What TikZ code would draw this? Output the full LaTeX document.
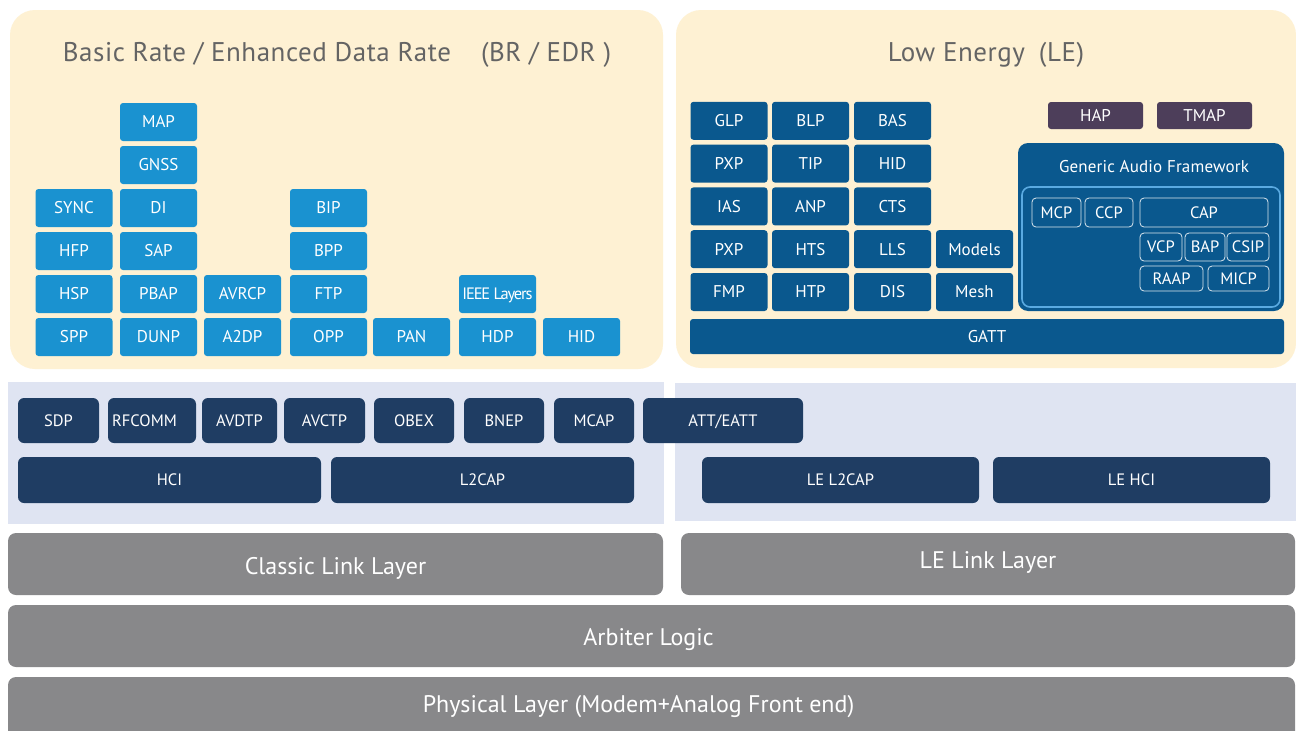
\documentclass[tikz,border=0pt]{standalone}
\usepackage{fontspec}
\setmainfont{PT Sans}
\usepackage{tikz}
\usetikzlibrary{positioning}

\begin{document}
\begin{tikzpicture}[x=1pt,y=-1pt,
    box/.style={inner sep=0pt,text=white,font=\fontsize{17}{20}\selectfont,text height=11.9pt,text depth=0pt},
    brbox/.style={box,rounded corners=3pt,fill=brblue,minimum width=77pt,minimum height=38pt},
    lebox/.style={box,rounded corners=3pt,fill=leblue,minimum width=77pt,minimum height=38pt},
    hapbox/.style={box,rounded corners=3pt,fill=hapviolet,minimum width=95pt,minimum height=27pt},
    gafbox/.style={box,rounded corners=4pt,draw=white!85!leblue,line width=0.8pt,font=\fontsize{16.5}{19}\selectfont,text height=11.5pt},
    stackbox/.style={box,rounded corners=6pt,fill=stacknavy,minimum height=45pt,font=\fontsize{16.5}{19}\selectfont,text height=11.5pt},
    linkbar/.style={box,rounded corners=8pt,fill=linkgray,minimum height=62pt,font=\fontsize{24}{28}\selectfont,text height=16.8pt},
    paneltitle/.style={inner sep=0pt,text=titlegray,font=\fontsize{27}{31}\selectfont\addfontfeature{LetterSpace=2},text height=18.9pt,text depth=0pt}]
            \definecolor{cream}{RGB}{254,241,211};
            \definecolor{lavender}{RGB}{223,228,242};
            \definecolor{brblue}{RGB}{26,146,208};
            \definecolor{leblue}{RGB}{10,88,142};
            \definecolor{hapviolet}{RGB}{77,62,90};
            \definecolor{stacknavy}{RGB}{31,61,99};
            \definecolor{linkgray}{RGB}{136,136,138};
            \definecolor{titlegray}{RGB}{100,100,100};
            \definecolor{gafline}{RGB}{90,170,225};

            \useasboundingbox (0,0) rectangle (1296,731);
            \fill[white] (0,0) rectangle (1296,731);

            % panels
            \fill[cream,rounded corners=25pt] (10,10) rectangle (663,369);
            \fill[cream,rounded corners=25pt] (676,10) rectangle (1296,368);
            \fill[lavender] (8,382) rectangle (664,524);
            \fill[lavender] (675,383) rectangle (1296,521);

            \node[paneltitle] (brtitle) at (337,52.5) {Basic Rate / Enhanced Data Rate\hspace{30pt}(BR / EDR )};
            \node[paneltitle] (letitle) at (986,52.5) {Low Energy\hspace{14pt}(LE)};

            % BR/EDR profiles
            \node[brbox] (spp) at (74,337) {SPP};
            \node[brbox,above=4.6pt of spp] (hsp) {HSP};
            \node[brbox,above=4.6pt of hsp] (hfp) {HFP};
            \node[brbox,above=4.6pt of hfp] (sync) {SYNC};

            \node[brbox] (dunp) at (158.5,337) {DUNP};
            \node[brbox,above=4.6pt of dunp] (pbap) {PBAP};
            \node[brbox,above=4.6pt of pbap] (sap) {SAP};
            \node[brbox,above=4.6pt of sap] (di) {DI};
            \node[brbox,above=4.6pt of di] (gnss) {GNSS};
            \node[brbox,above=4.6pt of gnss] (map) {MAP};

            \node[brbox] (atwodp) at (242.5,337) {A2DP};
            \node[brbox,above=4.6pt of atwodp] (avrcp) {AVRCP};

            \node[brbox] (opp) at (328.5,337) {OPP};
            \node[brbox,above=4.6pt of opp] (ftp) {FTP};
            \node[brbox,above=4.6pt of ftp] (bpp) {BPP};
            \node[brbox,above=4.6pt of bpp] (bip) {BIP};

            \node[brbox] (pan) at (411.5,337) {PAN};
            \node[brbox] (hdp) at (497.5,337) {HDP};
            \node[brbox,above=4.6pt of hdp,font=\fontsize{16.5}{19}\selectfont\addfontfeature{LetterSpace=-7},text height=11.5pt] (ieee) {IEEE Layers};
            \node[brbox] (brhid) at (581.5,337) {HID};

            % LE profiles
            \node[lebox] (fmp) at (729,292) {FMP};
            \node[lebox,above=4.4pt of fmp] (pxpb) {PXP};
            \node[lebox,above=4.4pt of pxpb] (ias) {IAS};
            \node[lebox,above=4.4pt of ias] (pxpa) {PXP};
            \node[lebox,above=4.4pt of pxpa] (glp) {GLP};

            \node[lebox] (htp) at (810.5,292) {HTP};
            \node[lebox,above=4.4pt of htp] (hts) {HTS};
            \node[lebox,above=4.4pt of hts] (anp) {ANP};
            \node[lebox,above=4.4pt of anp] (tip) {TIP};
            \node[lebox,above=4.4pt of tip] (blp) {BLP};

            \node[lebox] (dis) at (892.5,292) {DIS};
            \node[lebox,above=4.4pt of dis] (lls) {LLS};
            \node[lebox,above=4.4pt of lls] (cts) {CTS};
            \node[lebox,above=4.4pt of cts] (lehid) {HID};
            \node[lebox,above=4.4pt of lehid] (bas) {BAS};

            \node[lebox] (mesh) at (974.5,292) {Mesh};
            \node[lebox,above=4.4pt of mesh] (models) {Models};

            \node[lebox,minimum width=594pt,minimum height=35pt] (gatt) at (987,336.5) {GATT};

            \node[hapbox] (hap) at (1095.5,115.5) {HAP};
            \node[hapbox] (tmap) at (1204.5,115.5) {TMAP};

            % generic audio framework
            \node[box,rounded corners=10pt,fill=leblue,minimum width=266pt,minimum height=168pt] (gaf) at (1151,227) {};
            \node[box,font=\fontsize{17}{20}\selectfont\addfontfeature{LetterSpace=1}] (gaftitle) at (1154,167) {Generic Audio Framework};
            \draw[gafline,line width=1.6pt,rounded corners=8pt] (1022,187) rectangle (1280,307);
            \node[gafbox,minimum width=49pt,minimum height=29pt] (mcp) at (1056.5,212.5) {MCP};
            \node[gafbox,minimum width=48pt,minimum height=29pt] (ccp) at (1109,212.5) {CCP};
            \node[gafbox,minimum width=128pt,minimum height=29pt] (cap) at (1204,212.5) {CAP};
            \node[gafbox,minimum width=42pt,minimum height=28pt] (vcp) at (1161,247) {VCP};
            \node[gafbox,minimum width=40pt,minimum height=28pt] (bap) at (1205,247) {BAP};
            \node[gafbox,minimum width=42pt,minimum height=28pt] (csip) at (1248,247) {CSIP};
            \node[gafbox,minimum width=63pt,minimum height=25pt] (raap) at (1171.5,278.5) {RAAP};
            \node[gafbox,minimum width=61pt,minimum height=25pt] (micp) at (1238.5,278.5) {MICP};

            % host stack
            \node[stackbox,minimum width=81pt] (sdp) at (58.5,420.5) {SDP};
            \node[stackbox,minimum width=88pt] (rfcomm) at (152,420.5) {RFCOMM\kern15pt};
            \node[stackbox,minimum width=75pt] (avdtp) at (239.5,420.5) {AVDTP};
            \node[stackbox,minimum width=81pt] (avctp) at (324.5,420.5) {AVCTP};
            \node[stackbox,minimum width=80pt] (obex) at (414,420.5) {OBEX};
            \node[stackbox,minimum width=80pt] (bnep) at (504,420.5) {BNEP};
            \node[stackbox,minimum width=80pt] (mcap) at (594,420.5) {MCAP};
            \node[stackbox,minimum width=160pt] (att) at (723,420.5) {ATT/EATT};

            \node[stackbox,minimum width=303pt,minimum height=46pt] (hci) at (169.5,480) {HCI};
            \node[stackbox,minimum width=303pt,minimum height=46pt] (ltwocap) at (482.5,480) {L2CAP};
            \node[stackbox,minimum width=277pt,minimum height=46pt] (leltwocap) at (840.5,480) {LE L2CAP};
            \node[stackbox,minimum width=277pt,minimum height=46pt] (lehci) at (1131.5,480) {LE HCI};

            % controller
            \node[linkbar,minimum width=655pt] (classic) at (335.5,564) {\raisebox{-2.5pt}{Classic Link Layer}};
            \node[linkbar,minimum width=614pt] (lelink) at (988,564) {\raisebox{3.5pt}{LE Link Layer}};
            \node[linkbar,minimum width=1287pt] (arbiter) at (651.5,636) {\kern-6pt\raisebox{-1pt}{Arbiter Logic}};
            \node[linkbar,minimum width=1287pt,minimum height=66pt] (phy) at (651.5,710) {\kern-26pt\raisebox{6pt}{Physical Layer (Modem+Analog Front end)}};
        \end{tikzpicture}
\end{document}
